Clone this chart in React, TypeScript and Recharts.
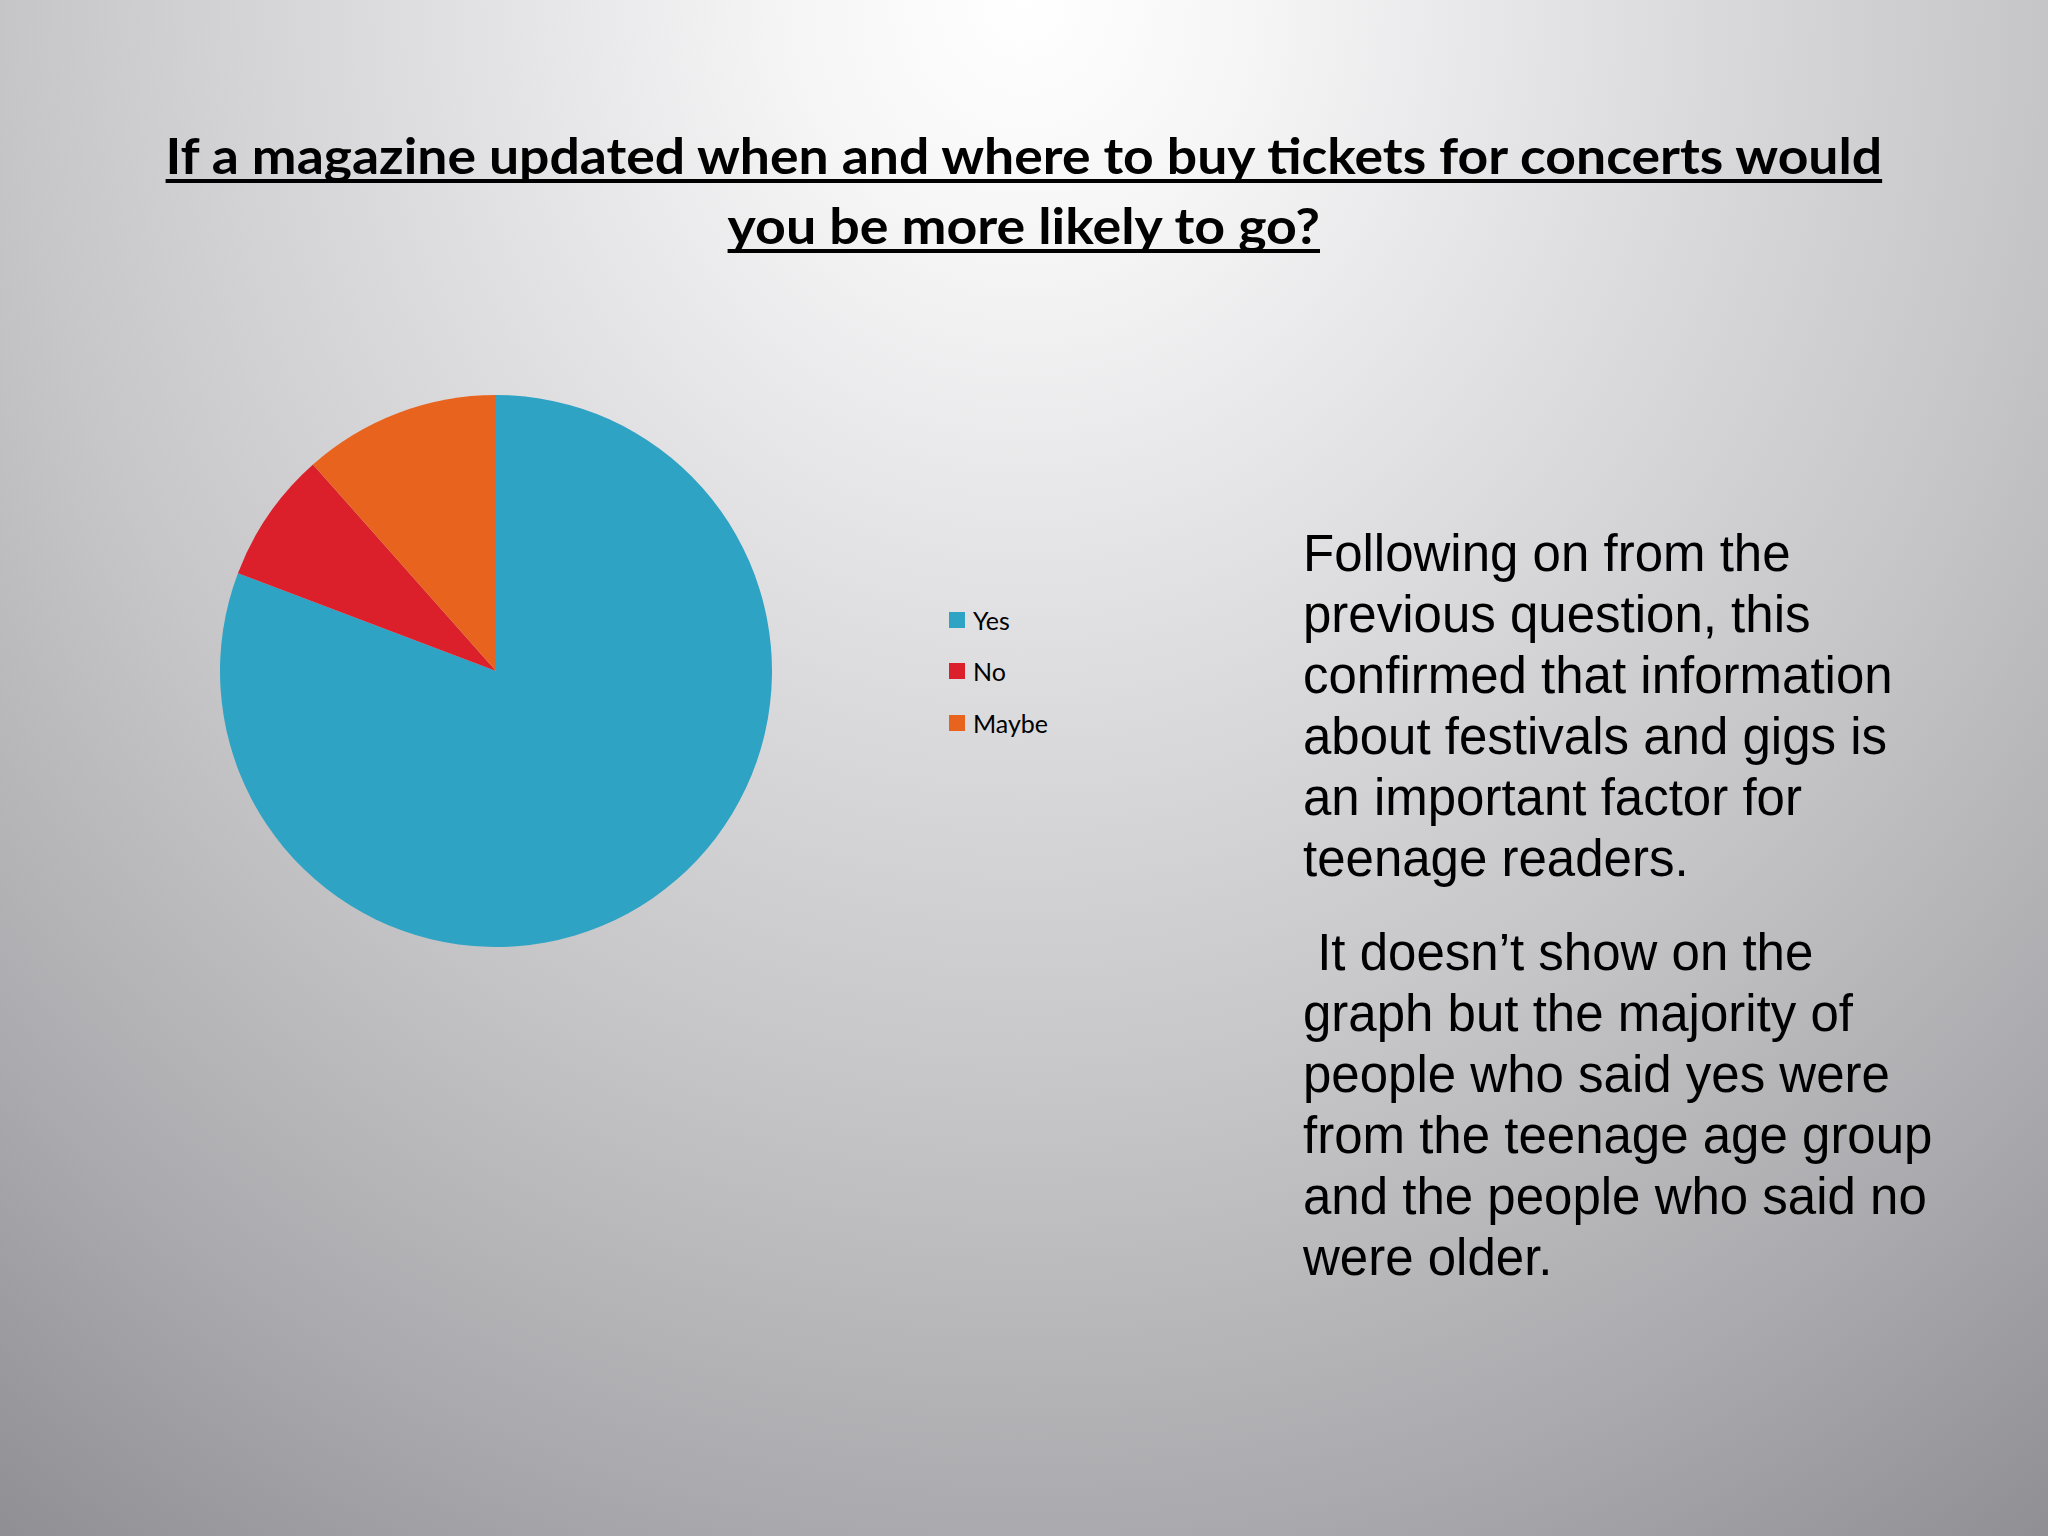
import React from "react";
import { PieChart, Pie, Cell, Legend } from "recharts";

// survey answers
const categories = ["Yes", "No", "Maybe"];
const responses = [21, 2, 3];

const COLORS = ["#2ea3c3", "#db1f2b", "#e8641e"];

const titleLines = [
  "If a magazine updated when and where to buy tickets for concerts would",
  "you be more likely to go?",
];
const titleStretch = [1.069, 1.074];

const paragraphOne = [
  "Following on from the",
  "previous question, this",
  "confirmed that information",
  "about festivals and gigs is",
  "an important factor for",
  "teenage readers.",
];

const paragraphTwo = [
  " It doesn\u2019t show on the",
  "graph but the majority of",
  "people who said yes were",
  "from the teenage age group",
  "and the people who said no",
  "were older.",
];

const pieData = categories.map((name, i) => ({
  name,
  value: responses[i],
  fill: COLORS[i % COLORS.length],
}));

const W = 2048;
const H = 1536;

const renderLegend = (props: any) => {
  // keep the data order (legend sorts by name otherwise)
  const items = [...(props.payload || [])].sort(
    (a: any, b: any) => categories.indexOf(a.value) - categories.indexOf(b.value)
  );
  return (
    <div style={{ fontFamily: "Lato, 'Open Sans', sans-serif", fontSize: 25, color: "#000" }}>
      {items.map((entry: any, index: number) => (
        <div key={`legend-${index}`} style={{ display: "flex", alignItems: "center", height: 51.5 }}>
          <span
            style={{
              display: "inline-block",
              width: 16,
              height: 16,
              background: COLORS[categories.indexOf(entry.value) % COLORS.length],
              marginRight: 8,
            }}
          />
          <span>{entry.value}</span>
        </div>
      ))}
    </div>
  );
};

export default function App() {
  return (
    <div
      style={{
        position: "absolute",
        left: 0,
        top: 0,
        width: W,
        height: H,
        overflow: "hidden",
        background:
          "radial-gradient(ellipse 90% 130% at 50% 0%, #ffffff 0%, #f6f6f7 12%, #dcdcde 35%, #c6c6c8 55%, #aaa9ad 77%, #8e8d91 96%, #8a898d 100%)",
      }}
    >
      {/* title */}
      <div
        style={{
          position: "absolute",
          left: 0,
          top: 120,
          width: W,
          textAlign: "center",
          fontFamily: "Lato, 'Open Sans', sans-serif",
          fontWeight: 700,
          fontSize: 50,
          lineHeight: "70px",
          color: "#000",
          whiteSpace: "pre",
        }}
      >
        {titleLines.map((line, i) => (
          <div key={`t-${i}`}>
            <span
              style={{
                display: "inline-block",
                transform: `scaleX(${titleStretch[i]})`,
                transformOrigin: "center",
                textDecoration: "underline",
                textDecorationSkipInk: "none",
                textDecorationThickness: 4,
                textUnderlineOffset: 5,
              }}
            >
              {line}
            </span>
          </div>
        ))}
      </div>

      {/* pie */}
      <div style={{ position: "absolute", left: 0, top: 0 }}>
        <PieChart width={W} height={H} margin={{ top: 0, right: 0, bottom: 0, left: 0 }}>
          <Pie
            data={pieData}
            dataKey="value"
            nameKey="name"
            cx={496}
            cy={671}
            outerRadius={276}
            startAngle={90}
            endAngle={-270}
            stroke="none"
            isAnimationActive={false}
          >
            {pieData.map((entry, index) => (
              <Cell key={`cell-${index}`} fill={COLORS[index % COLORS.length]} />
            ))}
          </Pie>
          <Legend
            layout="vertical"
            align="right"
            verticalAlign="middle"
            content={renderLegend}
            wrapperStyle={{ position: "absolute", left: 949, top: 594, width: 200, right: "auto", bottom: "auto" }}
          />
        </PieChart>
      </div>

      {/* commentary */}
      <div
        style={{
          position: "absolute",
          left: 1303,
          top: 523,
          fontFamily: "'Liberation Sans', Arial, sans-serif",
          fontSize: 51,
          lineHeight: "61px",
          color: "#000",
          whiteSpace: "pre",
        }}
      >
        {paragraphOne.map((line, i) => (
          <div key={`p1-${i}`}>{line}</div>
        ))}
        <div style={{ height: 33 }} />
        {paragraphTwo.map((line, i) => (
          <div key={`p2-${i}`}>{line}</div>
        ))}
      </div>
    </div>
  );
}
